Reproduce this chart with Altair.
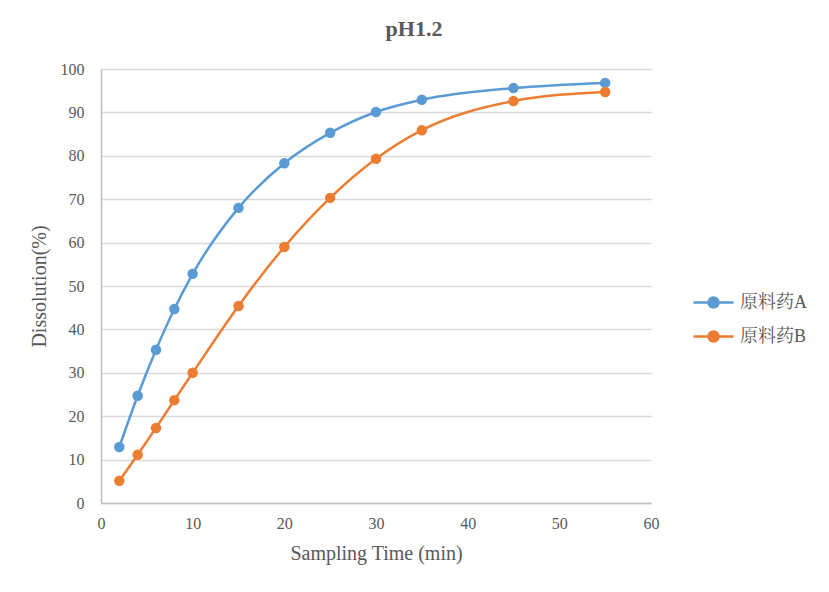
import altair as alt
import pandas as pd

times = [2, 4, 6, 8, 10, 15, 20, 25, 30, 35, 45, 55]
series_a = [12.9, 24.7, 35.3, 44.7, 52.8, 68.0, 78.3, 85.3, 90.1, 92.9, 95.6, 96.8]
series_b = [5.1, 11.1, 17.3, 23.7, 30.0, 45.4, 59.0, 70.3, 79.3, 85.9, 92.6, 94.7]
names = ["原料药A", "原料药B"]
colors = ["#5b9bd5", "#ed7d31"]

rows = []
for t, a, b in zip(times, series_a, series_b):
    rows.append({"t": t, "v": a, "s": names[0]})
    rows.append({"t": t, "v": b, "s": names[1]})
df = pd.DataFrame(rows)

serif = "Liberation Serif, Times New Roman, Noto Serif CJK SC, Noto Sans CJK SC"

color = alt.Color(
    "s:N",
    scale=alt.Scale(domain=names, range=colors),
    legend=alt.Legend(
        title=None,
        orient="none",
        legendX=601,
        legendY=222,
        symbolType="M-2,0 L2,0 M-0.5,0 A0.5,0.5 0 1,1 0.5,0 A0.5,0.5 0 1,1 -0.5,0",
        symbolSize=400,
        symbolStrokeWidth=2.5,
        symbolOffset=0,
        labelFont=serif,
        labelFontSize=18,
        labelColor="#595959",
        labelOffset=15,
        rowPadding=12,
    ),
)

x = alt.X(
    "t:Q",
    scale=alt.Scale(domain=[0, 60], nice=False),
    axis=alt.Axis(values=[0, 10, 20, 30, 40, 50, 60], title="Sampling Time (min)",
                  grid=False, labelFlush=False, labelPadding=12, titlePadding=12),
)
y = alt.Y(
    "v:Q",
    scale=alt.Scale(domain=[0, 100], nice=False),
    axis=alt.Axis(values=list(range(0, 101, 10)), title="Dissolution(%)",
                  labelFlush=False, labelPadding=17, titlePadding=11),
)

base = alt.Chart(df)
lines = base.mark_line(interpolate="monotone", strokeWidth=2.5).encode(x=x, y=y, color=color)
points = base.mark_point(filled=True, size=110, opacity=1).encode(
    x=x, y=y, color=alt.Color("s:N", legend=None, scale=alt.Scale(domain=names, range=colors))
)

chart = (
    alt.layer(lines, points)
    .properties(
        width=550,
        height=434,
        autosize=alt.AutoSizeParams(type="none"),
        padding={"left": 93, "top": 61, "right": 160, "bottom": 80},
        title=alt.TitleParams(
            "pH1.2", font=serif, fontSize=22, fontWeight="bold", color="#595959", dx=38, offset=20
        ),
        background="white",
    )
    .configure_view(stroke=None)
    .configure_axis(
        labelFont=serif,
        labelFontSize=16,
        labelColor="#595959",
        titleFont=serif,
        titleFontSize=20,
        titleFontWeight="normal",
        titleColor="#595959",
        gridColor="#d9d9d9",
        gridWidth=1.3,
        domain=True,
        domainColor="#bfbfbf",
        domainWidth=1.5,
        ticks=False,
    )
)

chart.save("out.html", embed_options={"renderer": "svg", "actions": False})
